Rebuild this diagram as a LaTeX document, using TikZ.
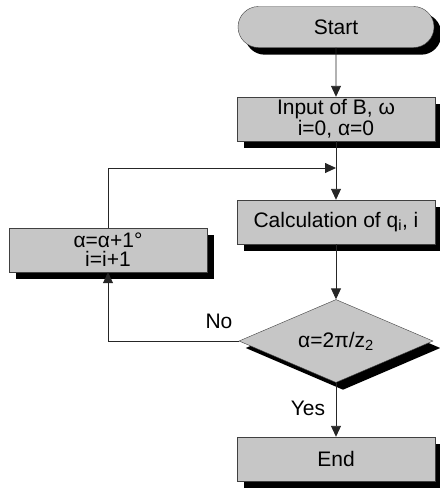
\documentclass[tikz,border=0pt]{standalone}
\usepackage{fontspec}
\setmainfont{Liberation Sans}
\usetikzlibrary{arrows.meta,shapes.geometric,shapes.misc,backgrounds}

\begin{document}
\begin{tikzpicture}[x=1pt,y=-1pt,>={Triangle[length=11pt,width=10pt]},
    every node/.style={font=\fontsize{21}{19}\selectfont},
    shade box/.style={draw=black!75,fill=gray!45,align=center,inner sep=0pt},
    procbox/.style={shade box,rectangle,minimum width=198pt,minimum height=44pt},
    termbox/.style={shade box,rounded rectangle,minimum width=196pt,minimum height=41pt},
    testbox/.style={shade box,diamond,shape aspect=2.3,minimum width=194pt,minimum height=83pt},
    sh/.style={xshift=7pt,yshift=-7pt},
    flow/.style={line width=0.9pt,draw=black!85}]
  \useasboundingbox (0,0) rectangle (440,491);
  \node[termbox] (start) at (336,27) {Start};
  \node[procbox] (input) at (336,119) {Input of B, ω\\i=0, α=0};
  \node[procbox] (calc) at (336,222) {Calculation of q\textsubscript{i}, i};
  \node[procbox] (upd) at (108,250) {α=α+1°\\i=i+1};
  \node[testbox] (test) at (336,341) {α=2π/z\textsubscript{2}};
  \node[procbox] (end) at (336,459) {End};
  \begin{scope}[on background layer]
    \fill[black,rounded corners=20pt] ([sh]start.west |- start.north) rectangle ([sh]start.east |- start.south);
    \foreach \b in {input,calc,upd,end}
      \fill[black] ([sh]\b.north west) rectangle ([sh]\b.south east);
    \fill[black] ([sh]test.north) -- ([sh]test.east) -- ([sh]test.south) -- ([sh]test.west) -- cycle;
  \end{scope}
  \coordinate (join) at (336,168);
  \draw[flow,->] (start) -- (input);
  \draw[flow,->] (input) -- (calc);
  \draw[flow,->] (calc) -- (test);
  \draw[flow,->] (test) -- (end);
  \draw[flow,->] (test.west) -| (upd.south);
  \draw[flow,->] (upd.north) |- (join);
  \node (lblno) at (219,321) {No};
  \node (lblyes) at (308,408) {Yes};
\end{tikzpicture}
\end{document}
